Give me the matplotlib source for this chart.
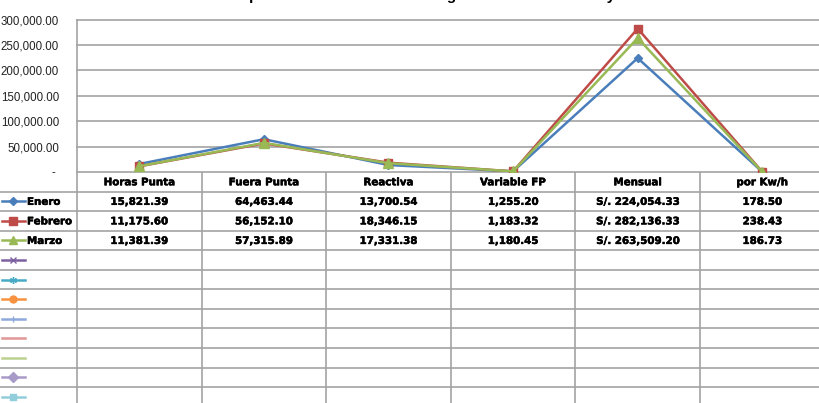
import numpy as np
import matplotlib.pyplot as plt
import matplotlib.patheffects as pe

# datos de la tabla del grafico
categorias = ["Horas Punta", "Fuera Punta", "Reactiva", "Variable FP", "Mensual", "por Kw/h"]
meses = ["Enero", "Febrero", "Marzo"]
enero = [15821.39, 64463.44, 13700.54, 1255.20, 224054.33, 178.50]
febrero = [11175.60, 56152.10, 18346.15, 1183.32, 282136.33, 238.43]
marzo = [11381.39, 57315.89, 17331.38, 1180.45, 263509.20, 186.73]
titulo = "Comparativo de Costos de Energía Eléctrica Mensual y"

series = [enero, febrero, marzo]
colores = ["#4A7EBB", "#BE4B48", "#98B954"]
marcadores = ["D", "s", "^"]
tam_marcador = [4.5, 6, 6.5]

# series vacias que Excel deja en la leyenda de la tabla
vacias = [("#7D60A0", "x"), ("#46AAC5", (6, 2, 0)), ("#F69240", "o"),
          ("#8EA9DB", "|"), ("#E09796", None), ("#BCD190", None),
          ("#A99BC8", "D"), ("#92CDDC", "s")]

W, H = 820, 403
fig = plt.figure(figsize=(W / 100, H / 100), dpi=100)

x0, y_eje, y_top = 77, 172, 19.5
col_w = 124.6
fila_h = 19.55
gris = "#A3A3A3"

ax = fig.add_axes([x0 / W, (H - y_eje) / H, 6 * col_w / W, (y_eje - y_top) / H])
for i, vals in enumerate(series):
    ax.plot(np.arange(len(categorias)) + 0.5, vals, color=colores[i], lw=1.8,
            marker=marcadores[i], ms=tam_marcador[i], mfc=colores[i], mec=colores[i],
            zorder=3 + i)
ax.set_xlim(0, 6)
ax.set_ylim(0, 300000)
ticks = np.arange(0, 300001, 50000)
ax.set_yticks(ticks)
ax.set_yticklabels(["- " if t == 0 else f"{t:,.2f}" for t in ticks],
                   fontsize=8.3, family="Liberation Sans", color="#222222")
ax.tick_params(axis="y", length=0, pad=13)
ax.set_xticks([])
for t in ticks:
    ax.axhline(t, color=gris, lw=1.2, clip_on=False, zorder=1)
for s in ["top", "right", "bottom"]:
    ax.spines[s].set_visible(False)
ax.spines["left"].set_color(gris)
ax.spines["left"].set_linewidth(1.2)
ax.set_facecolor("none")

# tabla de datos debajo del grafico (coordenadas en pixeles)
at = fig.add_axes([0, 0, 1, 1], zorder=-1)
at.set_xlim(0, W)
at.set_ylim(H, 0)
at.axis("off")

n_filas = 1 + len(meses) + len(vacias)
for r in range(1, n_filas + 1):
    y = y_eje + r * fila_h
    at.hlines(y, 0, W, color=gris, lw=1.2)
for k in range(7):
    at.vlines(x0 + k * col_w, y_eje, H + 5, color=gris, lw=1.2)

grueso = [pe.withStroke(linewidth=0.35, foreground="black")]
fuente = dict(family="DejaVu Sans", weight="bold", fontsize=7.4, color="black",
              path_effects=grueso)
for j, cat in enumerate(categorias):
    at.text(x0 + (j + 0.5) * col_w, y_eje + 0.5 * fila_h + 0.5, cat,
            ha="center", va="center", **fuente)

for i, (mes, vals) in enumerate(zip(meses, series)):
    yc = y_eje + (i + 1.5) * fila_h
    at.plot([2, 13, 25], [yc] * 3, color=colores[i], lw=1.8, marker=marcadores[i],
            ms=tam_marcador[i] - 0.5, markevery=[1], mfc=colores[i], mec=colores[i])
    at.text(27, yc + 0.5, mes, ha="left", va="center", **fuente)
    for j, v in enumerate(vals):
        pref = "S/. " if categorias[j] == "Mensual" else ""
        at.text(x0 + (j + 0.5) * col_w, yc + 0.5, f"{pref}{v:,.2f}",
                ha="center", va="center", **fuente)

for i, (c, m) in enumerate(vacias):
    yc = y_eje + (len(meses) + i + 1.5) * fila_h
    at.plot([2, 13, 25], [yc] * 3, color=c, lw=1.8, marker=m, ms=5,
            markevery=[1], mfc=c, mec=c)

# el titulo queda casi fuera del borde superior, como en la imagen original
fig.text(415 / W, 1 - 0.3 / H, titulo, ha="center", va="baseline",
         fontsize=11, weight="bold", family="Liberation Sans")

fig.savefig("out.png", dpi=100)
